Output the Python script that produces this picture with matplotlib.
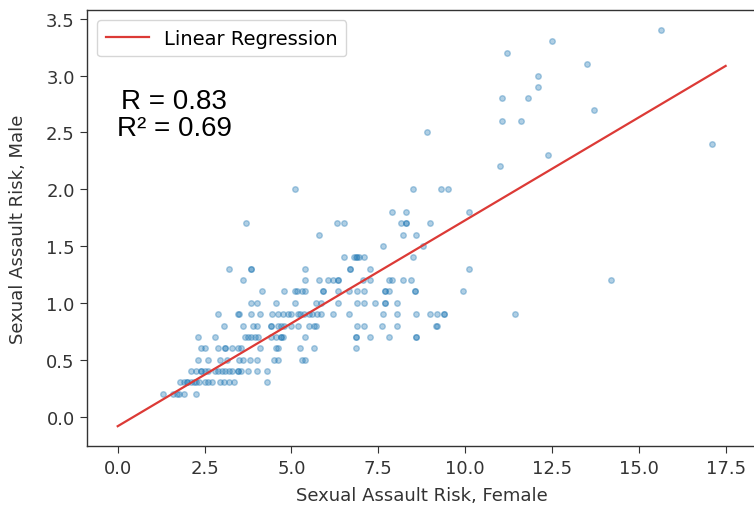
import numpy as np
import matplotlib
matplotlib.use("Agg")
import matplotlib.pyplot as plt

# ---- data (rows of equal male risk) ----
female_risk = [
    # y = 0.2
    1.3, 1.6, 1.7, 1.75, 1.9, 2.25,
    # y = 0.3
    1.8, 1.9, 2.0, 2.0, 2.1, 2.2, 2.25, 2.35, 2.5, 2.6, 2.7, 2.95, 3.05, 3.2, 3.35, 4.3,
    # y = 0.4
    2.1, 2.25, 2.4, 2.4, 2.5, 2.6, 2.8, 2.9, 3.0, 3.1, 3.2, 3.3, 3.45, 3.45, 3.55, 3.75, 4.0, 4.3,
    # y = 0.5
    2.3, 2.6, 2.95, 3.15, 3.5, 3.6, 3.8, 4.0, 4.5, 4.6, 5.3, 5.4,
    # y = 0.6
    2.4, 2.5, 2.9, 3.1, 3.1, 3.3, 3.45, 3.55, 4.1, 4.55, 4.6, 5.25, 5.65, 6.85,
    # y = 0.7
    2.3, 2.8, 3.65, 3.75, 3.85, 3.95, 4.05, 4.4, 4.55, 4.7, 4.7, 4.75, 5.4, 6.85, 6.85, 7.25, 7.8, 8.6, 8.6,
    # y = 0.8
    3.05, 3.6, 3.9, 4.0, 4.4, 4.4, 4.6, 4.7, 4.8, 5.0, 5.2, 5.5, 5.65, 5.7, 6.9, 7.1, 7.6, 8.05, 9.15, 9.2,
    # y = 0.9
    2.9, 3.45, 3.5, 3.85, 4.1, 4.45, 4.6, 4.75, 4.9, 5.0, 5.2, 5.25, 5.35, 5.5, 5.6, 5.75, 5.85,
    6.2, 6.65, 7.65, 8.05, 8.6, 9.0, 9.2, 9.4, 9.4, 11.45,
    # y = 1.0
    3.85, 4.0, 4.55, 5.1, 5.7, 5.85, 6.35, 6.9, 7.1, 7.4, 7.7, 7.7, 8.05,
    # y = 1.1
    4.15, 4.8, 5.1, 5.15, 5.3, 5.4, 5.9, 5.9, 6.35, 6.65, 6.9, 7.1, 7.7, 7.7, 7.8, 8.55, 8.55, 9.95,
    # y = 1.2
    3.6, 5.4, 5.8, 6.05, 6.2, 6.35, 6.35, 7.05, 7.25, 7.8, 7.9, 8.2, 8.45, 14.2,
    # y = 1.3
    3.2, 3.85, 3.85, 5.4, 6.7, 6.7, 7.25, 10.1,
    # y = 1.4
    6.5, 6.8, 6.85, 6.9, 6.95, 7.1, 8.5,
    # y = 1.5
    7.65, 8.8,
    # y = 1.6
    5.8, 8.2, 8.6,
    # y = 1.7
    3.7, 6.3, 6.5, 8.15, 8.3, 8.3, 9.0,
    # y = 1.8
    7.9, 8.3, 10.1,
    # y = 2.0
    5.1, 8.5, 9.3, 9.5,
    # y >= 2.2
    11.0, 12.4, 17.1, 8.9, 11.05, 11.6, 13.7, 11.05, 11.8, 12.1, 12.1, 13.5, 11.2, 12.5, 15.65,
]

male_risk = (
    [0.2] * 6 + [0.3] * 16 + [0.4] * 18 + [0.5] * 12 + [0.6] * 14 + [0.7] * 19
    + [0.8] * 20 + [0.9] * 27 + [1.0] * 13 + [1.1] * 18 + [1.2] * 14 + [1.3] * 8
    + [1.4] * 7 + [1.5] * 2 + [1.6] * 3 + [1.7] * 7 + [1.8] * 3 + [2.0] * 4
    + [2.2, 2.3, 2.4, 2.5, 2.6, 2.6, 2.7, 2.8, 2.8, 2.9, 3.0, 3.1, 3.2, 3.3, 3.4]
)

reg_x = [0.0, 17.5]
reg_slope = 0.1811
reg_intercept = -0.085
r_value = 0.83
r_squared = 0.69

# ---- plot ----
fig = plt.figure(figsize=(7.54, 5.10), dpi=100)
ax = fig.add_axes([0.1158, 0.1235, 0.8869, 0.8545])

ax.scatter(female_risk, male_risk, s=16, alpha=0.35, color="tab:blue")
reg_y = [reg_intercept + reg_slope * v for v in reg_x]
ax.plot(reg_x, reg_y, color="#dc3a36", lw=1.6, label="Linear Regression")

ax.set_yticks([0.0, 0.5, 1.0, 1.5, 2.0, 2.5, 3.0, 3.5])
ax.set_xticks([0.0, 2.5, 5.0, 7.5, 10.0, 12.5, 15.0, 17.5])
ax.tick_params(labelsize=13, length=5, color="#333333", labelcolor="#333333", pad=4)
for sp in ax.spines.values():
    sp.set_color("#333333")
    sp.set_linewidth(1.0)

ax.set_xlabel("Sexual Assault Risk, Female", fontsize=13, color="#333333", labelpad=7)
ax.set_ylabel("Sexual Assault Risk, Male", fontsize=13, color="#333333", labelpad=14)
ax.legend(loc="upper left", fontsize=14, handlelength=2.2, borderpad=0.45)

ax.text(0.1297, 0.761, f"R = {r_value:.2f}\nR\u00b2 = {r_squared:.2f}",
        transform=ax.transAxes, ha="center", va="center", multialignment="center",
        fontsize=20, family="Liberation Sans", linespacing=1.05)

fig.savefig("out.png", dpi=100)
